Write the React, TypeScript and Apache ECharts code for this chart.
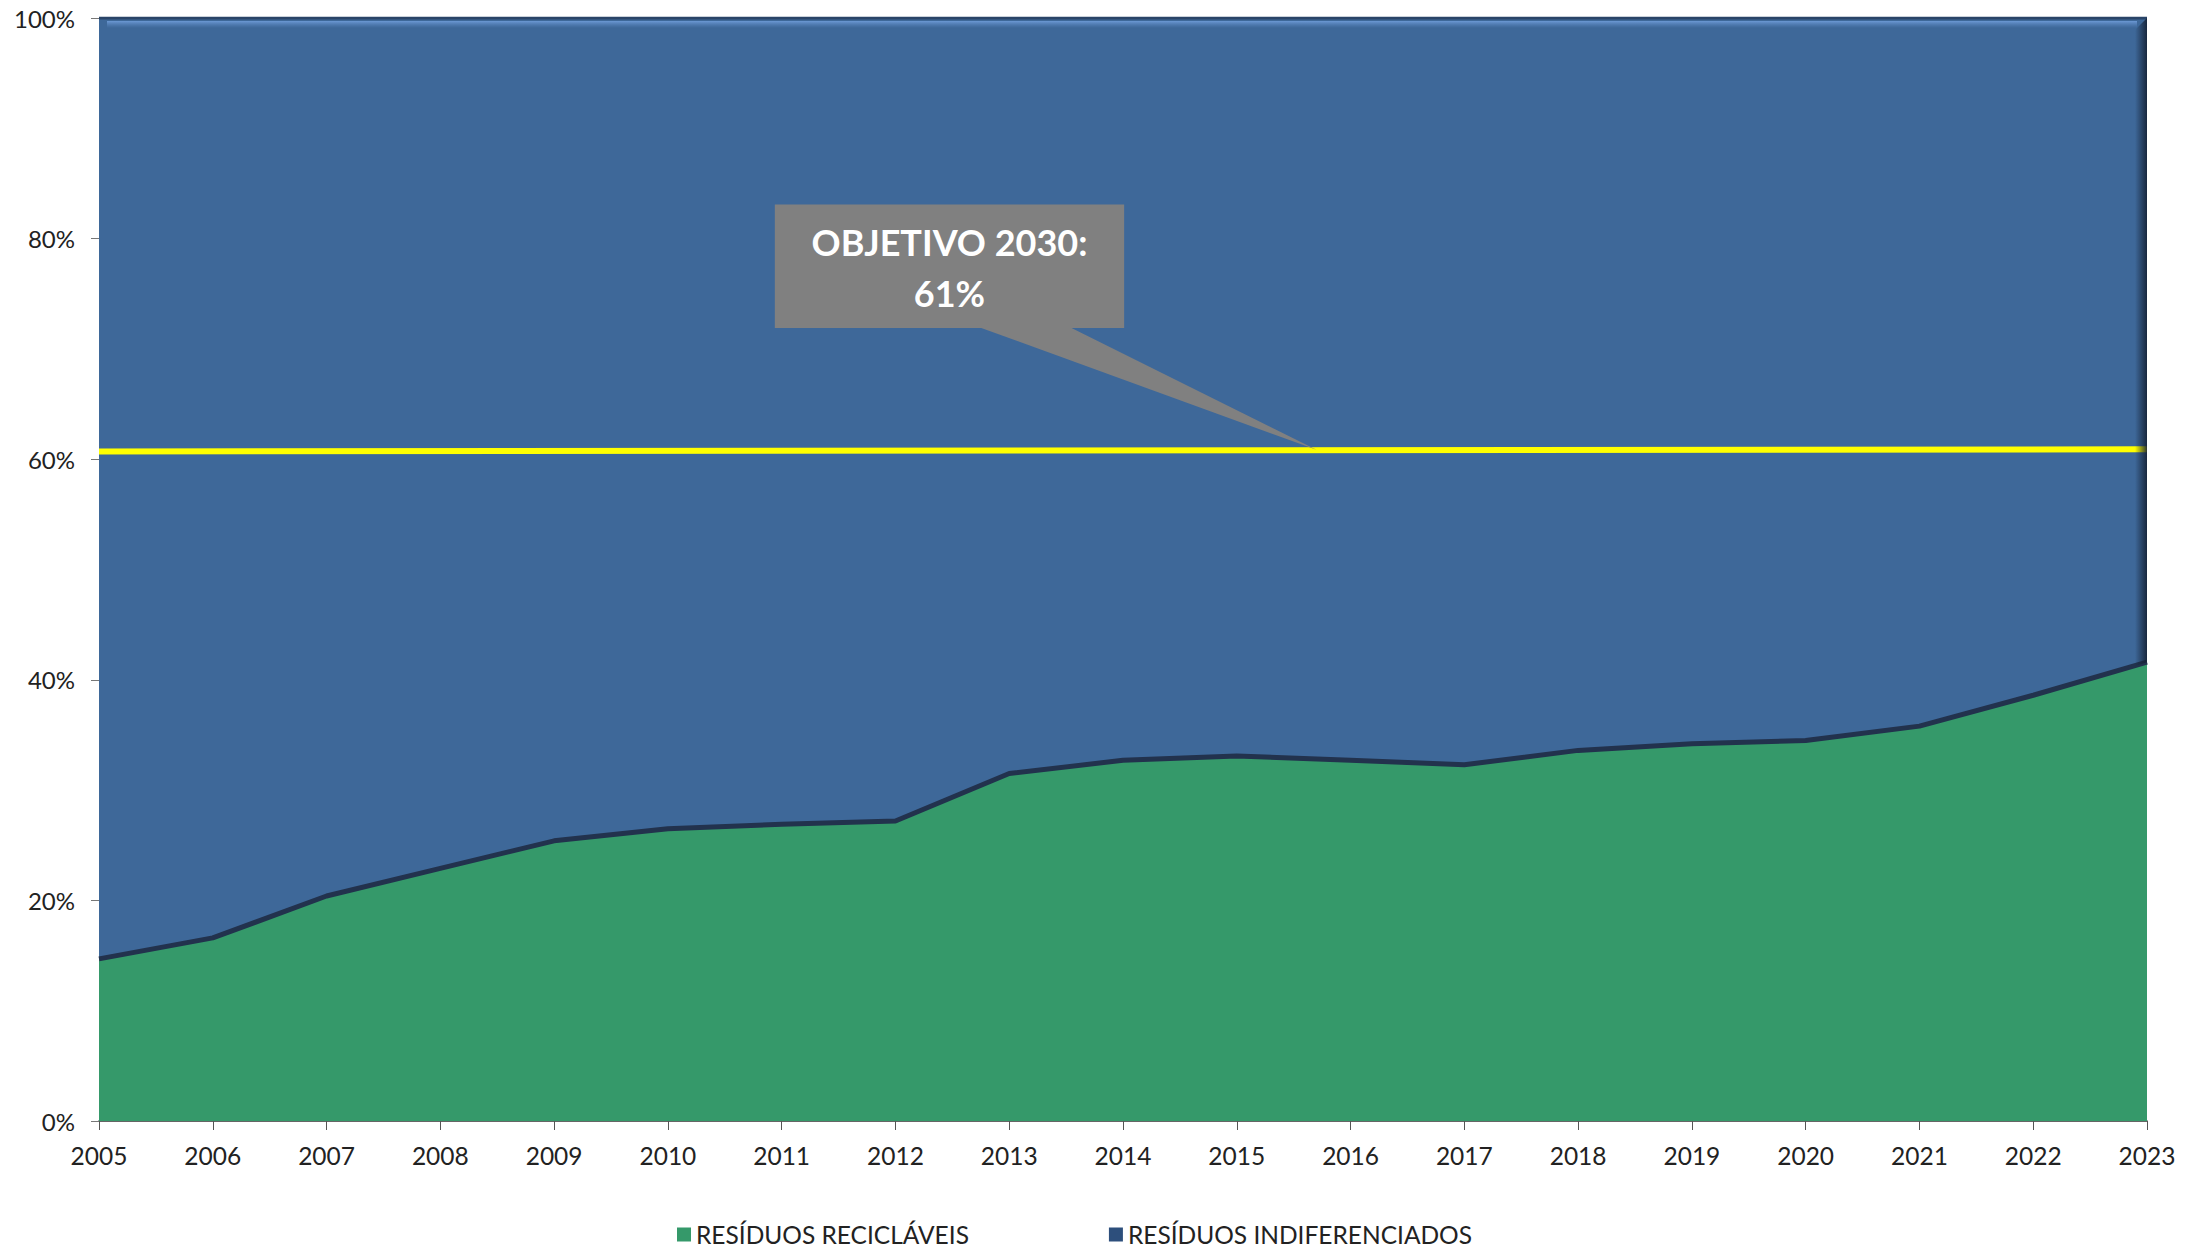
import React, { useEffect, useRef } from "react";
import * as echarts from "echarts";

const years = ["2005","2006","2007","2008","2009","2010","2011","2012","2013","2014","2015","2016","2017","2018","2019","2020","2021","2022","2023"];
const reciclaveis = [14.7, 16.6, 20.4, 22.9, 25.4, 26.5, 26.9, 27.2, 31.5, 32.7, 33.1, 32.7, 32.3, 33.6, 34.2, 34.5, 35.8, 38.6, 41.6];
const indiferenciados = [85.3, 83.4, 79.6, 77.1, 74.6, 73.5, 73.1, 72.8, 68.5, 67.3, 66.9, 67.3, 67.7, 66.4, 65.8, 65.5, 64.2, 61.4, 58.4];
const objetivoInicio = 60.7;
const objetivoFim = 60.9;
const nomeReciclaveis = "RESÍDUOS RECICLÁVEIS";
const nomeIndiferenciados = "RESÍDUOS INDIFERENCIADOS";
const calloutText = "OBJETIVO 2030:\n61%";

// annotation placement in data space (category index, percent)
const callout = {
  boxLeft: 5.94, boxRight: 9.01, boxTop: 83.1, boxBottom: 71.9,
  baseLeft: 7.73, baseRight: 8.53, tipX: 10.7, tipY: 60.85,
};

const GREEN = "#35996a";
const BLUE = "#3e6899";
const FONT = "Lato";

export default function App() {
  const ref = useRef<HTMLDivElement>(null);
  useEffect(() => {
    document.body.style.margin = "0";
    const chart = echarts.init(ref.current!, null, { renderer: "svg" });
    chart.setOption({
      animation: false,
      textStyle: { fontFamily: FONT },
      grid: { left: 99, right: 43, top: 18, bottom: 127 },
      legend: {
        left: 672,
        top: 1217,
        itemWidth: 14,
        itemHeight: 14,
        itemGap: 140,
        itemTextGap: 7,
        textStyle: { fontSize: 24.5, color: "#222", fontFamily: FONT },
        data: [
          { name: nomeReciclaveis, icon: "rect", itemStyle: { color: GREEN, borderWidth: 0 } },
          { name: nomeIndiferenciados, icon: "rect", itemStyle: { color: "#2d4f7c", borderWidth: 0 } },
        ],
      },
      xAxis: {
        type: "category",
        data: years,
        boundaryGap: false,
        axisLine: { lineStyle: { color: "#333", width: 1.5 } },
        axisTick: { length: 9, lineStyle: { color: "#555" } },
        axisLabel: { color: "#222", fontSize: 24.5, margin: 22, fontFamily: FONT },
        splitLine: { show: false },
      },
      yAxis: {
        type: "value",
        min: 0,
        max: 100,
        interval: 20,
        axisLine: { show: true, lineStyle: { color: "#555" } },
        axisTick: { show: true, length: 8, lineStyle: { color: "#777" } },
        axisLabel: { formatter: "{value}%", color: "#222", fontSize: 24, margin: 24, fontFamily: FONT },
        splitLine: { show: false },
      },
      series: [
        {
          name: nomeReciclaveis,
          type: "line",
          stack: "total",
          data: reciclaveis,
          symbol: "none",
          z: 3,
          itemStyle: { color: GREEN },
          lineStyle: { color: "#22324d", width: 5 },
          areaStyle: { color: GREEN, opacity: 1 },
          markLine: {
            silent: true,
            symbol: "none",
            label: { show: false },
            lineStyle: { color: "#ffff00", width: 6, type: "solid" },
            data: [[{ coord: [years[0], objetivoInicio] }, { coord: [years[years.length - 1], objetivoFim] }]],
          },
        },
        {
          name: nomeIndiferenciados,
          type: "line",
          stack: "total",
          data: indiferenciados,
          symbol: "none",
          z: 2,
          itemStyle: { color: BLUE },
          lineStyle: { color: "#2a4468", width: 3 },
          areaStyle: { color: BLUE, opacity: 1 },
        },
      ],
    });

    const xAt = (idx: number) => {
      const a = chart.convertToPixel({ xAxisIndex: 0 }, years[0]) as number;
      const b = chart.convertToPixel({ xAxisIndex: 0 }, years[years.length - 1]) as number;
      return a + (b - a) * (idx / (years.length - 1));
    };
    const yAt = (v: number) => chart.convertToPixel({ yAxisIndex: 0 }, v) as number;

    const bx0 = xAt(callout.boxLeft), bx1 = xAt(callout.boxRight);
    const by0 = yAt(callout.boxTop), by1 = yAt(callout.boxBottom);
    const gL = xAt(0), gR = xAt(years.length - 1);
    const gT = yAt(100);
    const lastGreen = yAt(reciclaveis[reciclaveis.length - 1]);

    chart.setOption({
      graphic: [
        {
          type: "rect",
          shape: { x: gL + 8, y: gT + 3, width: gR - gL - 18, height: 7 },
          style: {
            fill: new echarts.graphic.LinearGradient(0, 0, 0, 1, [
              { offset: 0, color: "rgba(110,155,215,0.95)" },
              { offset: 1, color: "rgba(90,134,192,0)" },
            ]),
          },
          z: 50,
          silent: true,
        },
        {
          type: "polygon",
          shape: { points: [[gR - 12, gT + 12], [gR, gT], [gR, lastGreen], [gR - 12, lastGreen + 4]] },
          style: {
            fill: new echarts.graphic.LinearGradient(0, 0, 1, 0, [
              { offset: 0, color: "rgba(20,32,52,0)" },
              { offset: 1, color: "rgba(20,32,52,0.9)" },
            ]),
          },
          z: 50,
          silent: true,
        },
        {
          type: "polygon",
          shape: { points: [[xAt(callout.baseLeft), by1 - 1], [xAt(callout.baseRight), by1 - 1], [xAt(callout.tipX), yAt(callout.tipY)]] },
          style: { fill: "#808080" },
          z: 100,
          silent: true,
        },
        {
          type: "rect",
          shape: { x: bx0, y: by0, width: bx1 - bx0, height: by1 - by0 },
          style: { fill: "#808080" },
          z: 100,
          silent: true,
        },
        {
          type: "text",
          x: (bx0 + bx1) / 2,
          y: (by0 + by1) / 2 + 1,
          style: {
            text: calloutText,
            fill: "#ffffff",
            font: `bold 36px ${FONT}`,
            align: "center",
            verticalAlign: "middle",
            lineHeight: 51,
          },
          z: 101,
          silent: true,
        },
      ],
    });

    return () => chart.dispose();
  }, []);
  return <div ref={ref} style={{ width: 2190, height: 1248 }} />;
}
